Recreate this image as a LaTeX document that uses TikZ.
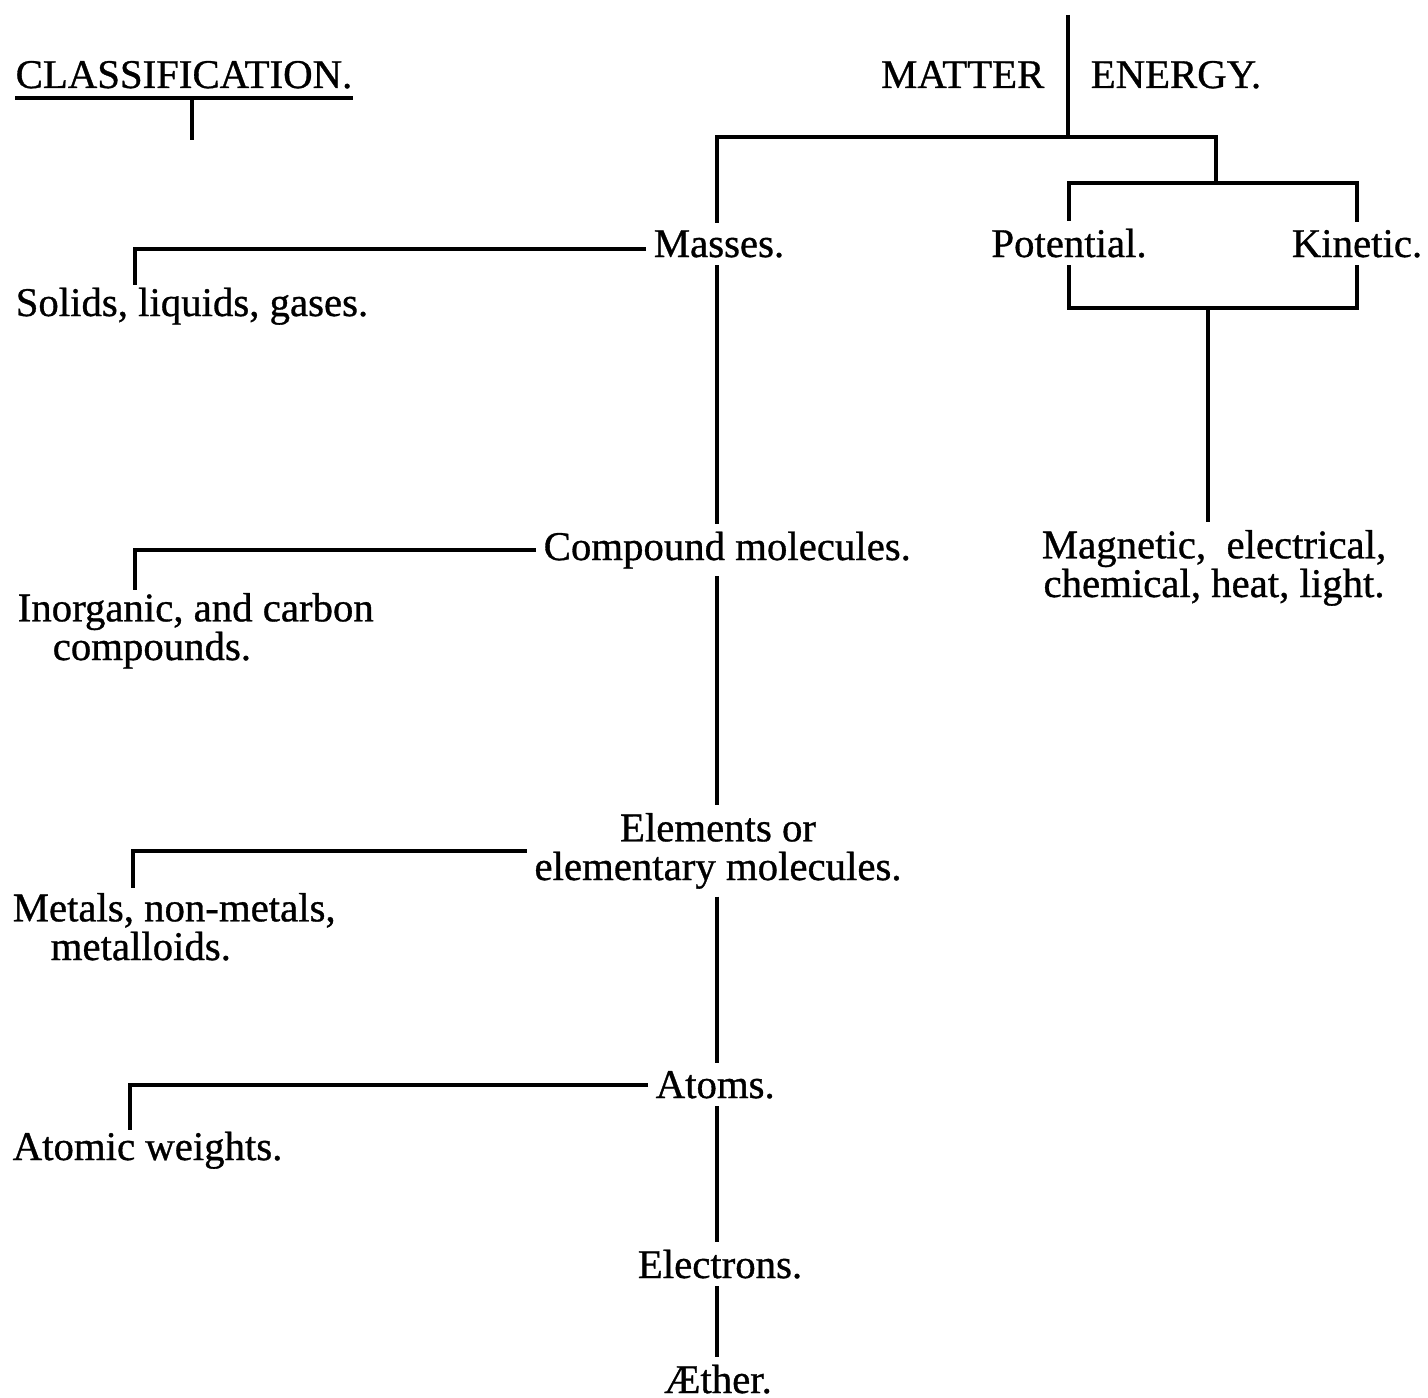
\documentclass[tikz,border=0pt]{standalone}
\usepackage{fontspec}
\setmainfont[FakeBold=0.8]{Liberation Serif}

\begin{document}
\begin{tikzpicture}[x=0.01cm,y=-0.01cm,font=\fontsize{11.6}{11}\selectfont,
    every node/.style={inner sep=2pt},
    link/.style={line width=1.1pt}]

    \useasboundingbox (0,0) rectangle (1428,1397);

    % Heading(s)
    \node[anchor=base west,inner sep=0pt] (class) at (15,88) {CLASSIFICATION.};
    \node[anchor=base east] (matter) at (1052,88) {MATTER};
    \node[anchor=base west] (energy) at (1083,88) {ENERGY.};

    % Matter column
    \node[anchor=base] (masses) at (719,257) {Masses.};
    \node[anchor=base west] (compound) at (536,560) {Compound molecules.};
    \node[anchor=base,align=center] (elements) at (718,880)
    {Elements or\\elementary molecules.};
    \node[anchor=base west] (atoms) at (648,1098) {Atoms.};
    \node[anchor=base] (electrons) at (720,1278) {Electrons.};
    \node[anchor=base] (aether) at (718,1393) {Æther.};

    % Energy column
    \node[anchor=base] (potential) at (1069,257) {Potential.};
    \node[anchor=base] (kinetic) at (1357,257) {Kinetic.};
    \node[anchor=base,align=center] (magnetic) at (1214,597)
    {Magnetic,~ electrical,\\chemical, heat, light.};

    % Classes on the left
    \node[anchor=base west] (solids) at (8,316) {Solids, liquids, gases.};
    \node[anchor=base west,align=left] (inorganic) at (10,660)
    {Inorganic, and carbon\\\hspace*{0.35cm}compounds.};
    \node[anchor=base west,align=left] (metals) at (5,960)
    {Metals, non-metals,\\\hspace*{0.38cm}metalloids.};
    \node[anchor=base west] (weights) at (5,1160) {Atomic weights.};

    % Bend point(s)
    \coordinate (spine) at (717,0);
    \coordinate (top) at (1068,15);
    \coordinate (fork) at (1216,137);
    \coordinate (ebar) at (1216,183);
    \coordinate (pkbar) at (1208,308);
    \coordinate (cstem) at (192,140);
    \coordinate (sl) at (135,285);
    \coordinate (il) at (135,590);
    \coordinate (ml) at (133,888);
    \coordinate (al) at (130,1130);
    \coordinate (uline) at ([yshift=-0.1cm]class.base west);

    % Underline and divider
    \draw[link] (uline) -- (uline -| class.base east);
    \draw[link] (cstem |- uline) -- (cstem);
    \draw[link] (top) -- (top |- fork);

    % Tree lines
    \draw[link] (masses.north -| spine) |- (fork) -- (ebar);
    \draw[link] (potential.north) |- (ebar) -| (kinetic.north);
    \draw[link] (potential.south) |- (pkbar) -| (kinetic.south);
    \draw[link] (pkbar) -- (pkbar |- magnetic.north);
    \draw[link] (masses.south -| spine) -- (compound.north -| spine);
    \draw[link] (compound.south -| spine) -- (elements.north -| spine);
    \draw[link] (elements.south -| spine) -- (atoms.north -| spine);
    \draw[link] (atoms.south -| spine) -- (electrons.north -| spine);
    \draw[link] (electrons.south -| spine) -- (aether.north -| spine);

    % Side branches
    \draw[link] ([yshift=-0.05cm]masses.west) -| (sl);
    \draw[link] (compound.west) -| (il);
    \draw[link] (elements.west) -| (ml);
    \draw[link] (atoms.west) -| (al);

\end{tikzpicture}
\end{document}
